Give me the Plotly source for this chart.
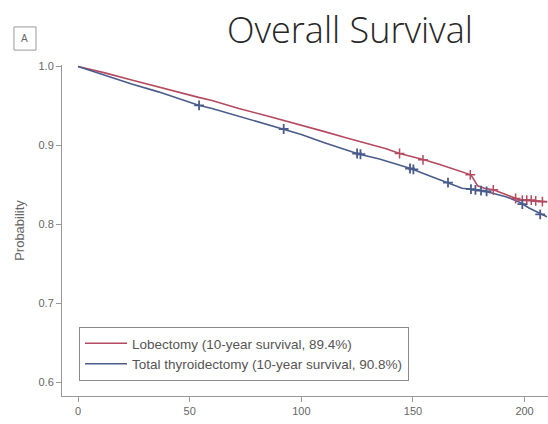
import plotly.graph_objects as go

# Kaplan-Meier estimates (months, survival probability)
lob_time = [0, 12, 24, 36, 48, 54, 60, 72, 84, 92, 100, 110, 120, 130, 138, 144,
            150, 155, 162, 168, 173, 176, 179, 182, 186, 192, 198, 204, 210]
lob_surv = [1.000, 0.992, 0.983, 0.974, 0.965, 0.961, 0.957, 0.947, 0.938, 0.932,
            0.926, 0.918, 0.910, 0.902, 0.896, 0.890, 0.886, 0.882, 0.876, 0.870,
            0.865, 0.863, 0.849, 0.846, 0.844, 0.838, 0.831, 0.830, 0.829]

tt_time = [0, 12, 24, 36, 48, 54, 60, 72, 84, 92, 100, 110, 120, 126, 135, 142,
           149, 157, 165, 172, 178, 184, 192, 198, 202, 206, 210]
tt_surv = [1.000, 0.989, 0.978, 0.968, 0.957, 0.951, 0.947, 0.937, 0.927, 0.921,
           0.914, 0.904, 0.894, 0.889, 0.883, 0.877, 0.871, 0.862, 0.853, 0.846,
           0.844, 0.841, 0.835, 0.828, 0.821, 0.815, 0.810]

# Censored observations
lob_cens_time = [144, 154.5, 175.7, 186, 196, 199, 201, 203, 205, 208]
lob_cens_surv = [0.890, 0.882, 0.863, 0.844, 0.833, 0.831, 0.831, 0.831, 0.830, 0.829]
tt_cens_time = [54.2, 92.1, 125, 126.5, 148.7, 150.2, 165.7, 176, 178, 180.5, 183, 199, 207]
tt_cens_surv = [0.951, 0.921, 0.890, 0.889, 0.871, 0.870, 0.853, 0.845, 0.844, 0.843, 0.842, 0.826, 0.813]

lob_label = "Lobectomy (10-year survival, 89.4%)"
tt_label = "Total thyroidectomy (10-year survival, 90.8%)"

RED = "#b44a60"
BLUE = "#4a5c8c"

x_ticks = [0, 50, 100, 150, 200]
y_ticks = [0.6, 0.7, 0.8, 0.9, 1.0]

fig = go.Figure()
fig.add_trace(go.Scatter(x=lob_time, y=lob_surv, mode="lines", name=lob_label,
                         line=dict(color=RED, width=1.6)))
fig.add_trace(go.Scatter(x=tt_time, y=tt_surv, mode="lines", name=tt_label,
                         line=dict(color=BLUE, width=1.6)))
fig.add_trace(go.Scatter(x=lob_cens_time, y=lob_cens_surv, mode="markers", showlegend=False,
                         marker=dict(symbol="cross-thin", size=7, line=dict(color=RED, width=1.5))))
fig.add_trace(go.Scatter(x=tt_cens_time, y=tt_cens_surv, mode="markers", showlegend=False,
                         marker=dict(symbol="cross-thin", size=7, line=dict(color=BLUE, width=1.8))))

SANS = "Liberation Sans, Arial"
tick_font = dict(family=SANS, size=11, color="#666")

fig.update_layout(
    width=548, height=424,
    margin=dict(l=62, r=0, t=65, b=28),
    paper_bgcolor="white", plot_bgcolor="white",
    showlegend=True,
    legend=dict(x=0.035, y=0.2085, xanchor="left", yanchor="top",
                bordercolor="#8a8a8a", borderwidth=1, bgcolor="white",
                font=dict(family=SANS, size=13.5, color="#555"),
                itemwidth=42, tracegroupgap=0),
    xaxis=dict(range=[-7.2, 210.5], tickvals=x_ticks, ticks="outside", ticklen=5,
               tickcolor="#999", showline=True, linecolor="#999", linewidth=1,
               showgrid=False, zeroline=False, tickfont=tick_font),
    yaxis=dict(range=[0.583, 1.002], tickvals=y_ticks, tickformat=".1f", ticks="outside",
               ticklen=5, tickcolor="#999", showline=True, linecolor="#999", linewidth=1,
               showgrid=False, zeroline=False, tickfont=tick_font,
               title=dict(text="Probability", standoff=10,
                          font=dict(family=SANS, size=13, color="#666"))),
    annotations=[
        dict(text="Overall Survival", xref="paper", yref="paper", x=0.5926, y=1.106,
             xanchor="center", yanchor="middle", showarrow=False,
             font=dict(family="Open Sans", size=36, color="#262626", weight=300)),
        dict(text="A", xref="paper", yref="paper", x=-0.0765, y=1.08,
             xanchor="center", yanchor="middle", showarrow=False,
             font=dict(family=SANS, size=10, color="#666")),
    ],
    shapes=[
        dict(type="rect", xref="paper", yref="paper", x0=-0.0988, x1=-0.0535,
             y0=1.045, y1=1.115, line=dict(color="#999", width=1)),
    ],
)

fig.write_html("out.html")
